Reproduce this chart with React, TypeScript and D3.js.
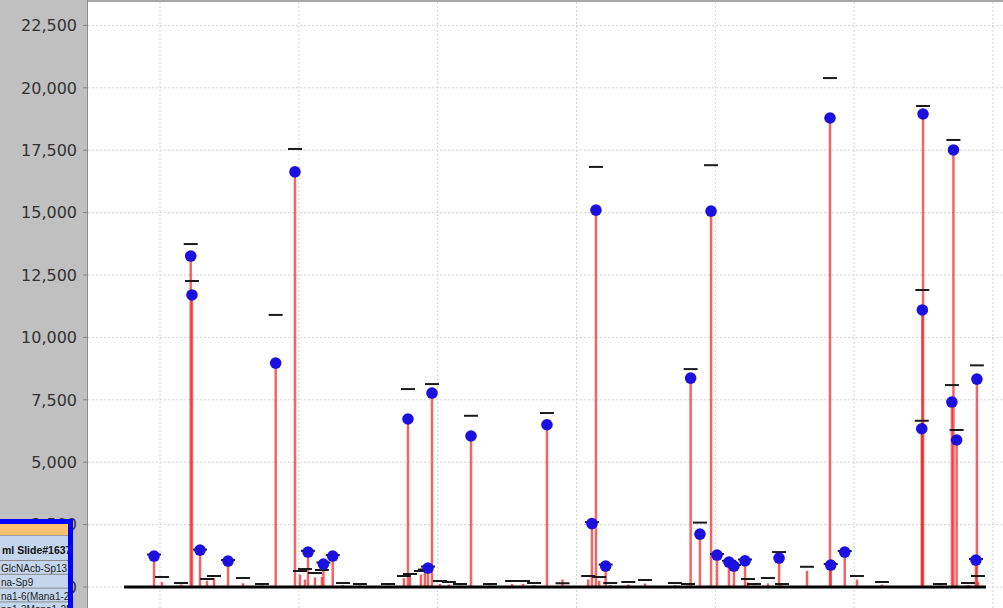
import React from "react";
import * as d3 from "d3";

// Highlighted glycans (with blue dots): index on x axis, mean RFU, mean + error
const hiIndex = [95.7, 122.1, 123.0, 128.8, 149.0, 183.3, 197.2, 206.6, 217.7, 224.4, 278.6, 295.9, 293.0, 324.0, 378.7, 411.1, 414.0, 421.0, 482.2, 488.9, 496.9, 501.2, 509.8, 513.4, 521.4, 545.9, 582.6, 583.1, 593.2, 648.7, 649.6, 649.1, 670.4, 673.8, 671.5, 688.4, 687.7];
const hiMean = [1240, 13260, 11700, 1480, 1040, 8970, 16630, 1400, 920, 1240, 6730, 7770, 760, 6050, 6500, 2540, 15100, 840, 8370, 2120, 15060, 1280, 1000, 840, 1050, 1160, 18790, 880, 1400, 6340, 18950, 11100, 7410, 5890, 17510, 8330, 1080];
const hiUpper = [1300, 13740, 12260, 1500, 1080, 10900, 17550, 1450, 980, 1280, 7930, 8130, 820, 6860, 6970, 2600, 16830, 900, 8730, 2580, 16900, 1320, 1050, 880, 1100, 1400, 20390, 920, 1440, 6660, 19270, 11900, 8090, 6290, 17910, 8880, 1120];

// Other glycans (low signal, no dot)
const loIndex = [101.4, 115.1, 133.8, 138.9, 159.8, 173.4, 200.8, 204.4, 211.6, 216.6, 231.8, 244.0, 264.2, 275.7, 280.0, 287.9, 290.8, 301.6, 308.1, 316.1, 337.7, 353.6, 361.5, 369.4, 389.9, 408.4, 416.3, 424.3, 437.3, 449.3, 470.9, 480.3, 523.5, 527.8, 537.9, 548.0, 566.0, 602.0, 620.0, 661.8, 682.0, 689.2];
const loMean = [200, 100, 250, 350, 150, 60, 500, 300, 380, 400, 80, 60, 60, 350, 400, 500, 600, 120, 100, 60, 60, 120, 120, 80, 300, 300, 250, 80, 100, 140, 80, 60, 180, 60, 150, 60, 650, 300, 100, 60, 80, 200];
const loUpper = [400, 160, 320, 440, 360, 120, 640, 720, 560, 680, 160, 120, 120, 440, 520, 640, 700, 240, 200, 120, 120, 240, 240, 160, 150, 440, 400, 160, 200, 280, 160, 120, 320, 120, 360, 120, 810, 440, 200, 120, 160, 440];

const yTicks = [0, 2500, 5000, 7500, 10000, 12500, 15000, 17500, 20000, 22500];
const xTicks = [100, 200, 300, 400, 500, 600, 700];

const tableRows = ["GlcNAcb-Sp13", "na-Sp9", "na1-6(Mana1-2M", "na1-3Mana1-2M"];
const tableTitle = "ml Slide#16378";

export default function App() {
  const W = 1003, H = 608;
  const plotL = 88, plotT = 2;
  const x = d3.scaleLinear().domain([0, 700]).range([21.2, 993]);
  const y = d3.scaleLinear().domain([0, 22500]).range([587, 25.4]);
  const fmt = d3.format(",");
  const y0 = y(0);
  const xMin = d3.min([...hiIndex, ...loIndex]) as number;
  const xMax = d3.max([...hiIndex, ...loIndex]) as number;

  return (
    <svg width={W} height={H} style={{ position: "fixed", left: 0, top: 0, background: "#fff" }}
      fontFamily="'DejaVu Sans', Verdana, sans-serif">
      <defs>
        <clipPath id="plotclip"><rect x={plotL} y={plotT} width={W - plotL} height={H - plotT} /></clipPath>
        <clipPath id="tblclip"><rect x={0} y={524} width={68} height={H - 524} /></clipPath>
      </defs>
      {/* gray background panel */}
      <rect x={0} y={0} width={W} height={H} fill="#c0c0c0" />
      <rect x={plotL} y={plotT} width={W - plotL} height={H - plotT} fill="#ffffff" />
      <line x1={plotL} x2={W} y1={1} y2={1} stroke="#a8a8a8" strokeWidth={2} />
      <line x1={plotL - 0.5} x2={plotL - 0.5} y1={0} y2={H} stroke="#8c8c8c" strokeWidth={1} />

      {/* y axis */}
      {yTicks.map((t) => (
        <g key={"yt" + t}>
          <line x1={plotL - 5} x2={plotL} y1={y(t)} y2={y(t)} stroke="#888" />
          <text x={77} y={y(t)} dy="0.36em" textAnchor="end" fontSize={16} fill="#333">{fmt(t)}</text>
        </g>
      ))}

      <g clipPath="url(#plotclip)">
        {/* gridlines */}
        {yTicks.map((t) => (
          <line key={"gy" + t} x1={plotL} x2={W} y1={y(t)} y2={y(t)} stroke="#d4d4d4" strokeDasharray="2,2" />
        ))}
        {xTicks.map((t) => (
          <line key={"gx" + t} x1={x(t)} x2={x(t)} y1={plotT} y2={H} stroke="#d4d4d4" strokeDasharray="2,2" />
        ))}

        {/* low signal stems */}
        {loIndex.map((xi, i) => (
          <line key={"ls" + i} x1={x(xi)} x2={x(xi)} y1={y0} y2={y(loMean[i])} stroke="#ee2a2a" strokeOpacity={0.75} strokeWidth={2.5} />
        ))}
        {/* highlighted stems */}
        {hiIndex.map((xi, i) => (
          <line key={"hs" + i} x1={x(xi)} x2={x(xi)} y1={y0} y2={y(hiMean[i])} stroke="#ee2a2a" strokeOpacity={0.72} strokeWidth={2.5} />
        ))}
        {/* baseline of near-zero values */}
        <line x1={x(xMin) - 30} x2={x(xMax) + 8} y1={y0} y2={y0} stroke="#000" strokeWidth={3} />

        {/* error caps */}
        {loIndex.map((xi, i) => (
          <line key={"lc" + i} x1={x(xi) - 7} x2={x(xi) + 7} y1={y(loUpper[i])} y2={y(loUpper[i])} stroke="#1a1a1a" strokeWidth={2} />
        ))}
        {hiIndex.map((xi, i) => (
          <line key={"hc" + i} x1={x(xi) - 7} x2={x(xi) + 7} y1={y(hiUpper[i])} y2={y(hiUpper[i])} stroke="#1a1a1a" strokeWidth={2} />
        ))}
        {/* dots */}
        {hiIndex.map((xi, i) => (
          <circle key={"hd" + i} cx={x(xi)} cy={y(hiMean[i])} r={5.8} fill="#1c10e0" />
        ))}
      </g>

      {/* tooltip table (clipped off-screen) */}
      <g>
        <rect x={-10} y={519} width={83} height={H} fill="#0000ff" />
        <g clipPath="url(#tblclip)">
          <rect x={0} y={524} width={68} height={H} fill="#c4d6ee" />
          <rect x={0} y={524} width={68} height={11} fill="#ffc072" />
          <line x1={0} x2={68} y1={535.5} y2={535.5} stroke="#9a9a9a" />
          <text x={2} y={554} fontFamily="'Liberation Sans', Arial, sans-serif" fontWeight="bold" fontSize={10.5} fill="#111">{tableTitle}</text>
          {tableRows.map((r, i) => (
            <g key={"tr" + i}>
              <line x1={0} x2={68} y1={560.5 + i * 13.8} y2={560.5 + i * 13.8} stroke="#8a8a8a" />
              <text x={1} y={572 + i * 13.8} fontFamily="'Liberation Sans', Arial, sans-serif" fontSize={10} fill="#222">{r}</text>
            </g>
          ))}
        </g>
      </g>
    </svg>
  );
}
